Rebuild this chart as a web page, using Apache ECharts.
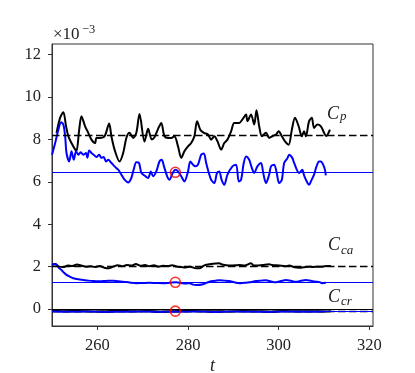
<!DOCTYPE html>
<html><head><meta charset="utf-8">
<script src="https://cdn.jsdelivr.net/npm/echarts@6/dist/echarts.min.js"></script>
<style>html,body{margin:0;padding:0;background:#fff}#c{width:415px;height:373px}</style>
</head><body><div id="c"></div>
<script>
// ---- data (values in units of 1e-3) ----
const xTicks = [260, 280, 300, 320];
const yTicks = [0, 2, 4, 6, 8, 10, 12];
const xRange = [250, 320.8];
const yRange = [-0.8, 12.5];

const cpBlackT = [251.0,251.8,252.5,253.1,253.6,254.3,255.1,255.4,256.0,256.5,257.3,258.0,258.7,259.5,259.8,260.5,261.6,262.6,263.1,263.8,264.9,265.7,266.4,267.1,267.9,268.6,269.3,270.4,271.2,272.0,272.6,273.4,274.1,274.8,275.6,276.3,277.0,277.8,278.5,279.2,280.0,280.7,281.4,282.0,282.7,283.5,284.4,285.1,285.8,286.5,287.3,288.0,288.7,289.5,290.2,291.3,292.0,292.8,293.1,293.9,294.6,295.1,295.7,296.3,297.2,297.9,298.6,299.4,300.0,300.7,301.4,302.2,302.9,303.6,304.4,305.1,305.6,306.0,306.7,307.3,307.8,308.5,309.3,310.0,310.5,311.0,311.3];
const cpBlackV = [8.31,9.03,9.28,8.62,8.15,7.83,7.52,7.44,8.46,9.09,8.62,8.31,7.99,7.83,8.07,8.07,8.15,8.75,8.15,7.52,6.96,7.36,8.07,8.31,8.07,8.31,9.2,7.9,8.5,8.0,8.1,8.5,8.78,8.15,8.07,8.07,8.15,7.67,7.13,7.44,7.67,7.83,8.15,8.86,8.46,8.31,8.23,7.99,8.15,7.91,7.52,7.83,7.99,8.38,8.78,8.78,8.94,9.17,8.86,9.17,8.70,9.38,8.62,8.15,8.31,8.07,8.15,8.23,8.38,8.15,7.91,7.75,8.46,9.02,8.62,8.15,8.38,8.15,8.86,9.02,8.54,8.70,8.62,8.31,8.15,8.31,8.46];

const cpBlueT = [250.0,250.7,251.4,252.0,252.5,252.9,253.2,253.8,254.3,254.8,255.3,255.8,256.3,256.9,257.5,257.8,258.2,258.7,259.2,259.8,260.4,260.9,261.4,261.9,262.4,263.1,263.8,264.6,265.3,266.0,266.8,267.5,268.0,268.6,269.2,269.7,270.4,271.2,271.8,272.3,273.0,273.7,274.2,274.7,275.4,275.9,276.7,277.2,277.8,278.5,279.2,280.0,280.5,281.1,281.6,282.2,282.9,283.5,284.0,284.5,285.1,285.8,286.4,286.9,287.4,288.0,288.7,289.8,290.6,291.2,291.7,292.3,292.8,293.5,294.0,294.6,295.3,296.1,296.6,297.2,297.9,298.3,299.0,299.5,300.1,300.7,301.2,301.9,302.3,303.0,303.4,304.5,305.2,305.6,306.0,306.7,307.1,307.8,308.3,308.9,309.3,309.8,310.2,310.4];
const cpBlueV = [7.28,7.83,8.46,8.81,8.70,8.15,7.36,6.96,7.44,7.04,7.44,7.28,7.39,7.28,7.36,7.13,7.48,7.36,7.28,7.17,7.28,7.13,7.17,6.96,7.04,6.89,6.73,6.57,6.34,6.10,5.97,6.18,6.57,6.92,6.89,6.42,6.30,6.18,6.49,6.26,6.49,6.96,7.04,6.73,6.26,6.10,6.45,6.57,6.49,6.26,6.02,6.49,6.96,6.81,6.73,6.81,7.28,7.33,6.89,6.49,6.10,5.94,6.42,6.49,6.10,5.86,6.34,6.73,6.81,6.02,6.10,6.90,7.20,7.04,6.70,6.42,6.73,6.89,6.40,5.94,6.34,6.73,6.81,6.49,5.94,6.10,6.89,7.10,7.28,7.13,6.89,6.42,6.57,6.30,6.10,5.86,6.02,6.34,6.70,6.96,6.96,6.81,6.57,6.30];

const ccaBlackT = [250.0,250.8,251.5,252.5,253.5,254.5,255.5,256.5,257.5,258.5,259.5,260.5,261.5,262.5,263.5,264.5,265.5,266.5,267.5,268.5,269.5,270.5,271.5,272.5,273.5,274.5,275.5,276.5,277.5,278.5,279.5,280.5,281.5,282.5,283.5,284.7,285.5,286.9,287.5,289.1,290.5,291.3,292.5,293.9,294.5,295.0,296.5,297.9,298.5,300.1,301.5,302.3,303.5,304.5,305.5,306.7,307.5,308.5,309.6,310.7,311.5];
const ccaBlackV = [2.08,2.12,2.00,1.98,2.05,2.03,2.10,2.05,2.00,2.02,1.98,2.03,1.95,1.92,2.00,2.06,2.02,2.08,2.05,2.12,2.04,2.08,2.02,2.06,2.00,2.04,2.03,2.06,2.00,1.98,1.96,2.00,1.93,1.92,2.05,2.11,2.14,2.16,2.10,2.05,2.06,2.08,2.05,2.16,2.05,2.05,2.08,2.11,2.08,2.05,2.02,2.05,1.97,1.95,1.97,2.00,1.98,2.00,2.00,2.03,2.03];

const ccaBlueT = [250.0,250.5,251.0,251.5,252.1,252.6,253.2,254.0,254.7,255.8,256.9,258.0,259.1,260.2,261.3,262.4,263.5,264.6,265.7,267.1,268.6,270.0,271.5,273.0,274.5,276.0,277.4,278.6,279.5,280.3,281.1,281.8,283.3,284.7,286.0,286.9,288.0,289.1,290.2,291.3,292.4,293.5,295.0,296.1,297.2,298.3,299.4,300.5,301.6,302.7,303.8,304.9,306.0,307.1,308.2,309.0,309.6,310.4];
const ccaBlueV = [2.08,2.12,2.08,1.95,1.84,1.72,1.61,1.52,1.45,1.40,1.37,1.34,1.32,1.31,1.32,1.33,1.34,1.31,1.29,1.25,1.22,1.23,1.24,1.23,1.22,1.24,1.26,1.22,1.20,1.22,1.15,1.13,1.17,1.29,1.33,1.36,1.34,1.32,1.26,1.22,1.24,1.26,1.32,1.34,1.36,1.30,1.26,1.32,1.37,1.33,1.29,1.33,1.37,1.33,1.29,1.27,1.22,1.24];

const ccrBlackT = [250.0,253.0,256.0,259.0,262.0,265.0,268.0,271.0,274.0,277.0,280.0,283.0,286.0,289.0,292.0,295.0,298.0,301.0,304.0,307.0,310.0,311.5];
const ccrBlackV = [-0.08,-0.10,-0.09,-0.12,-0.10,-0.08,-0.11,-0.09,-0.12,-0.10,-0.08,-0.11,-0.10,-0.12,-0.09,-0.10,-0.12,-0.09,-0.11,-0.10,-0.12,-0.10];
const ccrBlueT = [250.0,254.0,258.0,262.0,266.0,270.0,274.0,278.0,282.0,286.0,290.0,294.0,298.0,302.0,306.0,310.4];
const ccrBlueV = [-0.12,-0.13,-0.12,-0.14,-0.13,-0.12,-0.14,-0.13,-0.12,-0.14,-0.12,-0.13,-0.14,-0.12,-0.13,-0.12];

const dashedLevels = [8.2, 2.03, -0.1];
const blueLevels = [6.45, 1.26, -0.1];
const zeroLevel = [0];
const circleT = [277.2, 277.2, 277.2];
const circleV = [6.45, 1.26, -0.1];

// ---- chart ----
const zip = (t, v) => t.map((x, i) => [x, v[i]]);
const FONT = 'Liberation Serif';
const chart = echarts.init(document.getElementById('c'), null, {renderer: 'canvas'});

function curve(t, v, color) {
  return {type: 'line', data: zip(t, v), showSymbol: false, symbol: 'none', smooth: 0.3,
    lineStyle: {color: color, width: 2}, z: 3, silent: true};
}

const markLines = [];
dashedLevels.forEach(v => markLines.push({yAxis: v, lineStyle: {color: '#000', width: 1.4, type: [7.5, 3.5]}}));
blueLevels.forEach(v => markLines.push({yAxis: v, lineStyle: {color: '#0000ff', width: 1, type: 'solid'}}));
zeroLevel.forEach(v => markLines.push({yAxis: v, lineStyle: {color: '#000', width: 1, type: 'solid'}}));

chart.setOption({
  animation: false,
  backgroundColor: '#fff',
  grid: {left: 52, right: 42, top: 44, bottom: 47, show: true, borderColor: '#333', borderWidth: 1, backgroundColor: 'transparent'},
  xAxis: {
    type: 'value', min: xRange[0], max: xRange[1],
    axisLine: {show: true, onZero: false, lineStyle: {color: '#333', width: 1}},
    axisTick: {show: true, customValues: xTicks, length: 4, lineStyle: {color: '#333'}},
    axisLabel: {customValues: xTicks, margin: 11, color: '#222', fontFamily: FONT, fontSize: 16.5},
    splitLine: {show: false}
  },
  yAxis: {
    type: 'value', min: yRange[0], max: yRange[1],
    axisLine: {show: true, onZero: false, lineStyle: {color: '#333', width: 1}},
    axisTick: {show: true, customValues: yTicks, length: 4, lineStyle: {color: '#333'}},
    axisLabel: {customValues: yTicks, margin: 11, color: '#222', fontFamily: FONT, fontSize: 16.5},
    splitLine: {show: false}
  },
  series: [
    {type: 'line', data: [], z: 1, silent: true,
      markLine: {silent: true, symbol: ['none', 'none'], label: {show: false}, animation: false, data: markLines}},
    curve(cpBlackT, cpBlackV, '#000'),
    curve(cpBlueT, cpBlueV, '#0000ff'),
    curve(ccaBlackT, ccaBlackV, '#000'),
    curve(ccaBlueT, ccaBlueV, '#0000ff'),
    curve(ccrBlackT, ccrBlackV, '#000'),
    curve(ccrBlueT, ccrBlueV, '#0000ff'),
    {type: 'scatter', data: zip(circleT, circleV), symbol: 'circle', symbolSize: 10, z: 5, silent: true,
      itemStyle: {color: 'rgba(0,0,0,0)', borderColor: '#ff0000', borderWidth: 1.6}}
  ],
  graphic: [
    {type: 'text', style: {x: 53, y: 34.5, text: '×10', font: '17px "Liberation Serif"', fill: '#222', verticalAlign: 'middle'}},
    {type: 'text', style: {x: 82, y: 29.5, text: '−3', font: '12.5px "Liberation Serif"', fill: '#222', verticalAlign: 'middle'}},
    {type: 'text', style: {x: 212.5, y: 366, text: 't', font: 'italic 18px "Liberation Serif"', fill: '#222', align: 'center', verticalAlign: 'middle'}},
    {type: 'text', style: {x: 327, y: 114, text: 'C', font: 'italic 18px "Liberation Serif"', fill: '#222', verticalAlign: 'middle'}},
    {type: 'text', style: {x: 340, y: 116.5, text: 'p', font: 'italic 13px "Liberation Serif"', fill: '#222', verticalAlign: 'middle'}},
    {type: 'text', style: {x: 328, y: 245.5, text: 'C', font: 'italic 18px "Liberation Serif"', fill: '#222', verticalAlign: 'middle'}},
    {type: 'text', style: {x: 341, y: 250.5, text: 'ca', font: 'italic 13px "Liberation Serif"', fill: '#222', verticalAlign: 'middle'}},
    {type: 'text', style: {x: 328, y: 297.5, text: 'C', font: 'italic 18px "Liberation Serif"', fill: '#222', verticalAlign: 'middle'}},
    {type: 'text', style: {x: 341, y: 301.5, text: 'cr', font: 'italic 13px "Liberation Serif"', fill: '#222', verticalAlign: 'middle'}}
  ]
});
</script>
</body></html>
